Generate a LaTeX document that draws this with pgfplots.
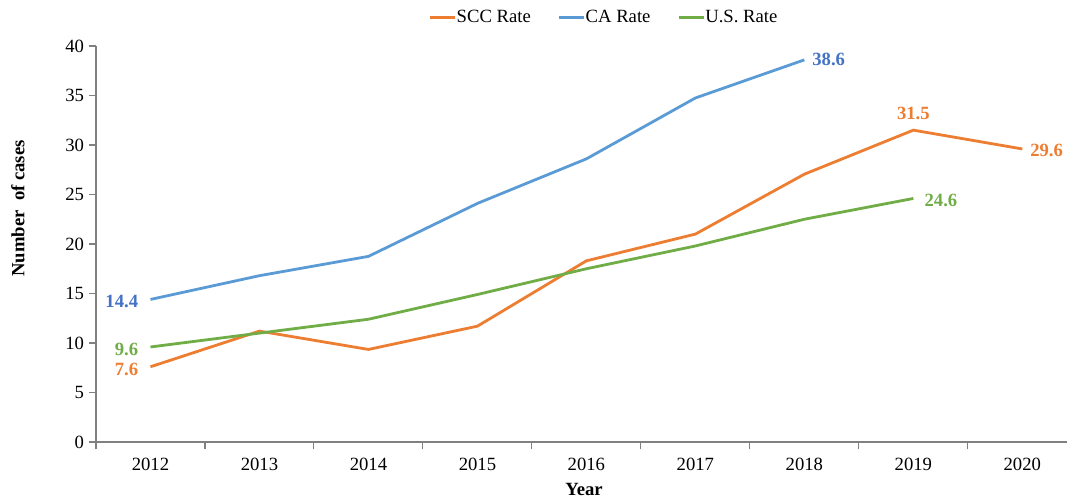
\documentclass[border=0pt]{standalone}
\usepackage{pgfplots}
\pgfplotsset{compat=1.18}
\usepackage{fontspec}
\setmainfont{Liberation Serif}
\definecolor{scc}{HTML}{ED7D31}
\definecolor{ca}{HTML}{5B9BD5}
\definecolor{calab}{HTML}{4472C4}
\definecolor{us}{HTML}{70AD47}
\definecolor{axgray}{HTML}{808080}
\begin{document}
\begin{tikzpicture}
\useasboundingbox (0,0) rectangle (800.25pt,375pt);
\begin{axis}[
  at={(72pt,43.5pt)}, anchor=south west,
  scale only axis, width=728.25pt, height=297pt,
  xmin=-0.5, xmax=8.41, ymin=0, ymax=40,
  axis x line*=bottom, axis y line*=left,
  axis line style={axgray, line width=0.8pt, -},
  xtick={0,...,8},
  xticklabels={2012,2013,2014,2015,2016,2017,2018,2019,2020},
  minor xtick={-0.5,0.5,...,8.5},
  major x tick style={draw=none},
  minor x tick style={axgray, line width=0.8pt},
  minor tick length=5.5pt,
  xtick align=outside,
  ytick={0,5,...,40},
  ytick align=outside,
  major tick length=5.5pt,
  y tick style={axgray, line width=0.8pt},
  tick label style={font=\fontsize{14}{16}\selectfont, black},
  /pgf/number format/assume math mode=true,
  xticklabel style={yshift=-3pt},
  xlabel={\textbf{Year}},
  xlabel style={font=\fontsize{14}{16}\selectfont, at={(axis description cs:0.5026,-0.121)}, anchor=center},
  ylabel={\textbf{Number\ \ of cases}},
  ylabel style={font=\fontsize{14}{16}\selectfont, at={(axis description cs:-0.0803,0.59)}, anchor=center},
  legend columns=3,
  legend style={at={(0.5235,1)}, anchor=south, yshift=12pt, draw=none, fill=none,
    font=\fontsize{14}{16}\selectfont,
    /tikz/every odd column/.append style={column sep=-2pt},
    /tikz/every even column/.append style={column sep=18pt}},
  legend image code/.code={\draw[#1, line width=2.1pt] (0pt,0pt) -- (19pt,0pt);},
  every axis plot/.append style={line width=2.1pt, no markers},
  clip=false,
]
\addplot[scc] coordinates {(0,7.6) (1,11.2) (2,9.35) (3,11.7) (4,18.3) (5,21.0) (6,27.05) (7,31.5) (8,29.6)};
\addlegendentry{SCC Rate}
\addplot[ca] coordinates {(0,14.4) (1,16.8) (2,18.75) (3,24.1) (4,28.6) (5,34.75) (6,38.6)};
\addlegendentry{CA Rate}
\addplot[us] coordinates {(0,9.6) (1,11.0) (2,12.4) (3,14.9) (4,17.5) (5,19.8) (6,22.5) (7,24.6)};
\addlegendentry{U.S. Rate}
\node[calab, font=\fontsize{14}{16}\selectfont\bfseries, anchor=east] at (axis cs:-0.07,14.2) {14.4};
\node[us, font=\fontsize{14}{16}\selectfont\bfseries, anchor=east] at (axis cs:-0.07,9.3) {9.6};
\node[scc, font=\fontsize{14}{16}\selectfont\bfseries, anchor=east] at (axis cs:-0.07,7.3) {7.6};
\node[calab, font=\fontsize{14}{16}\selectfont\bfseries, anchor=west] at (axis cs:6.03,38.6) {38.6};
\node[scc, font=\fontsize{14}{16}\selectfont\bfseries, anchor=south] at (axis cs:7,32.1) {31.5};
\node[scc, font=\fontsize{14}{16}\selectfont\bfseries, anchor=west] at (axis cs:8.03,29.4) {29.6};
\node[us, font=\fontsize{14}{16}\selectfont\bfseries, anchor=west] at (axis cs:7.06,24.4) {24.6};
\end{axis}
\end{tikzpicture}
\end{document}
